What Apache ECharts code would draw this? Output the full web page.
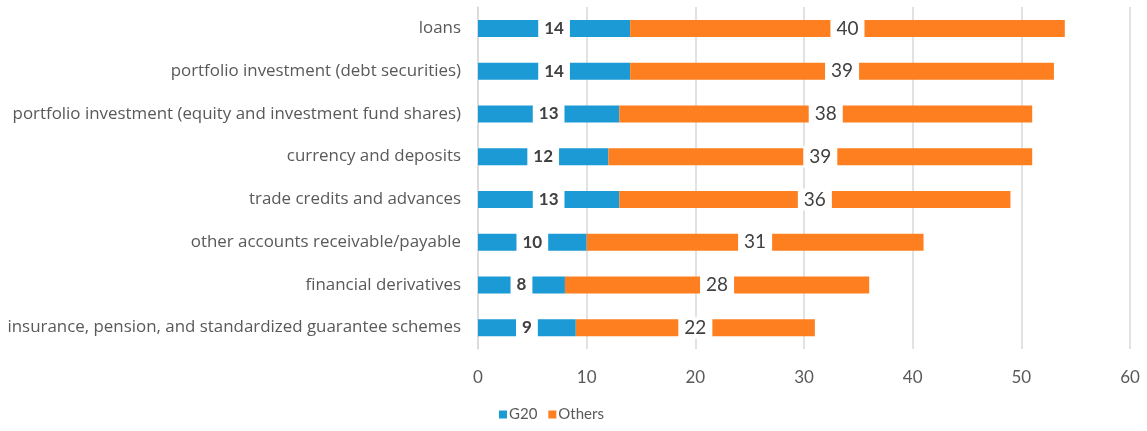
<!DOCTYPE html>
<html>
<head>
<meta charset="utf-8">
<script src="https://cdn.jsdelivr.net/npm/echarts@6/dist/echarts.min.js"></script>
<style>
  html, body { margin: 0; padding: 0; background: #ffffff; }
  #chart { width: 1147px; height: 431px; }
</style>
</head>
<body>
<div id="chart"></div>
<script>
// Instrument categories, listed bottom to top
const categories = [
  'insurance, pension, and standardized guarantee schemes',
  'financial derivatives',
  'other accounts receivable/payable',
  'trade credits and advances',
  'currency and deposits',
  'portfolio investment (equity and investment fund shares)',
  'portfolio investment (debt securities)',
  'loans'
];
const g20Values = [9, 8, 10, 13, 12, 13, 14, 14];
const othersValues = [22, 28, 31, 36, 39, 38, 39, 40];
const xTicks = { min: 0, max: 60, interval: 10 };

const textColor = '#595959';
const fontFamily = 'Lato, "Open Sans", sans-serif';
const catFont = '"Open Sans", Lato, sans-serif';

const chart = echarts.init(document.getElementById('chart'), null, { renderer: 'canvas' });

chart.setOption({
  animation: false,
  textStyle: { fontFamily: fontFamily },
  grid: { left: 478, right: 17, top: 7, bottom: 82, containLabel: false },
  legend: {
    left: 494,
    top: 402,
    itemWidth: 8,
    itemHeight: 8,
    itemGap: 11,
    icon: 'rect',
    textStyle: { color: textColor, fontSize: 15, fontFamily: fontFamily, padding: [0, 0, 0, -3] },
    data: ['G20', 'Others']
  },
  xAxis: {
    type: 'value',
    min: xTicks.min,
    max: xTicks.max,
    interval: xTicks.interval,
    axisLine: { show: false },
    axisTick: { show: false },
    axisLabel: { color: textColor, fontSize: 17, margin: 20, fontFamily: fontFamily },
    splitLine: { show: true, lineStyle: { color: '#d9d9d9', width: 1.5 } }
  },
  yAxis: {
    type: 'category',
    data: categories,
    axisLine: { show: true, lineStyle: { color: '#d9d9d9', width: 1.5 } },
    axisTick: { show: false },
    axisLabel: { color: textColor, fontSize: 16.9, margin: 17, fontFamily: catFont }
  },
  series: [
    {
      name: 'G20',
      type: 'bar',
      stack: 'total',
      barWidth: 17,
      data: g20Values,
      itemStyle: { color: '#1c9ad6' },
      label: {
        show: true,
        position: 'inside',
        color: '#404040',
        fontWeight: 'bold',
        fontSize: 17,
        fontFamily: fontFamily,
        backgroundColor: '#ffffff',
        padding: [3, 6, 2, 6]
      }
    },
    {
      name: 'Others',
      type: 'bar',
      stack: 'total',
      barWidth: 17,
      data: othersValues,
      itemStyle: { color: '#fd7f1f' },
      label: {
        show: true,
        position: 'inside',
        color: '#404040',
        fontSize: 19,
        fontFamily: fontFamily,
        backgroundColor: '#ffffff',
        padding: [2, 6, 1, 6]
      }
    }
  ]
});
</script>
</body>
</html>
